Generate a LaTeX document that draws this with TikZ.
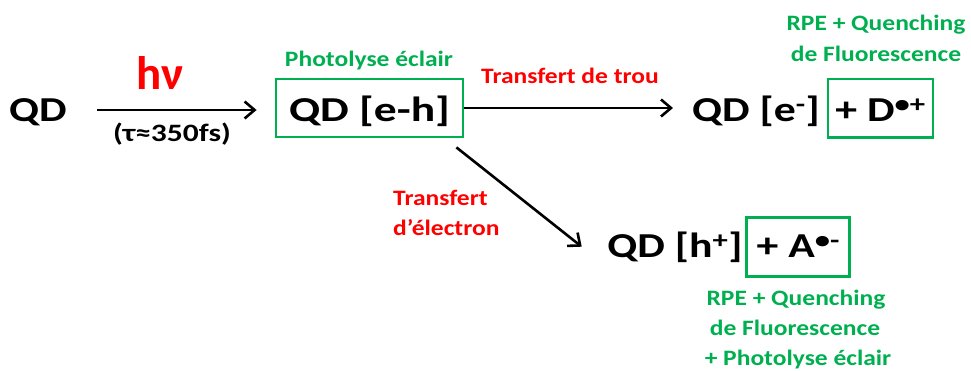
\documentclass[tikz,border=0pt]{standalone}
\usepackage{fontspec}
\setmainfont{Carlito}
\newfontfamily\fbig{Carlito}[FakeStretch=1.25]
\newfontfamily\fbigw{Carlito}[FakeStretch=1.3]
\newfontfamily\flbl{Carlito}[FakeStretch=1.16]
\newfontfamily\ftau{Carlito}[FakeStretch=1.26]
\usetikzlibrary{arrows.meta}
\definecolor{pgreen}{RGB}{0,176,80}
\definecolor{pred}{RGB}{255,0,0}
\begin{document}
\begin{tikzpicture}[x=1pt,y=-1pt,
  big/.style={font=\fontsize{35}{40}\fbig\bfseries, inner sep=0pt, anchor=base},
  lbl/.style={font=\fontsize{22}{30}\flbl\bfseries, inner sep=0pt, anchor=base},
  gbox/.style={draw=pgreen, line width=2.8pt},
  arr/.style={-{Straight Barb[length=10pt,width=17pt]}, line width=2.6pt}]
\useasboundingbox (0,0) rectangle (971,371);
% left
\node[big] (qd) at (38,121.5) {QD};
\node[big, font=\fontsize{35}{40}\fbigw\bfseries, gbox, minimum width=187pt, text height=42.5pt, text depth=15.5pt] (eh) at (369.5,121.5) {QD [e-h]};
\node[font=\fontsize{47}{50}\selectfont\bfseries, text=pred, inner sep=0pt, anchor=base] (hv) at (160,90) {hν};
\node[font=\fontsize{25}{30}\ftau\bfseries, inner sep=0pt, anchor=base] (tau) at (172,142) {(τ≈350fs)};
\node[lbl, text=pgreen] (ph) at (369,66.5) {Photolyse éclair};
% upper right
\node[big] (qde) at (756,121.5) {QD [e\textsuperscript{-}]};
\node[big, gbox, minimum width=105pt, text height=42.5pt, text depth=16pt] (dp) at (880.5,121.5) {+ D\textsuperscript{•+}};
\node[lbl, text=pred] (tt) at (570,83.5) {Transfert de trou};
\node[lbl, text=pgreen] (rpe1a) at (876,30.5) {RPE + Quenching};
\node[lbl, text=pgreen] (rpe1b) at (876,62) {de Fluorescence};
% lower right
\node[big] (qdh) at (675,258) {QD [h\textsuperscript{+}]};
\node[big, gbox, minimum width=103pt, text height=40.3pt, text depth=18.7pt] (ap) at (798.3,258) {+ A\textsuperscript{•-}};
\node[lbl, text=pred, anchor=base west] (te1) at (393,205.7) {Transfert};
\node[lbl, text=pred, anchor=base west] (te2) at (393,236) {d’électron};
\node[lbl, text=pgreen] (rpe2a) at (796,305.7) {RPE + Quenching};
\node[lbl, text=pgreen] (rpe2b) at (795,335) {de Fluorescence};
\node[lbl, text=pgreen] (rpe2c) at (798,365) {+ Photolyse éclair};
% arrows
\draw[arr] ([shift={(59,-11.5)}]qd.base) -- ([shift={(-18,2)}]eh.west);
\draw[arr] (eh.east) -- ([xshift=-83pt]qde.base |- eh.east);
\draw[arr] ([shift={(-8,9)}]eh.south east) -- ([shift={(-93.3,-11.3)}]qdh.base);
\end{tikzpicture}
\end{document}
